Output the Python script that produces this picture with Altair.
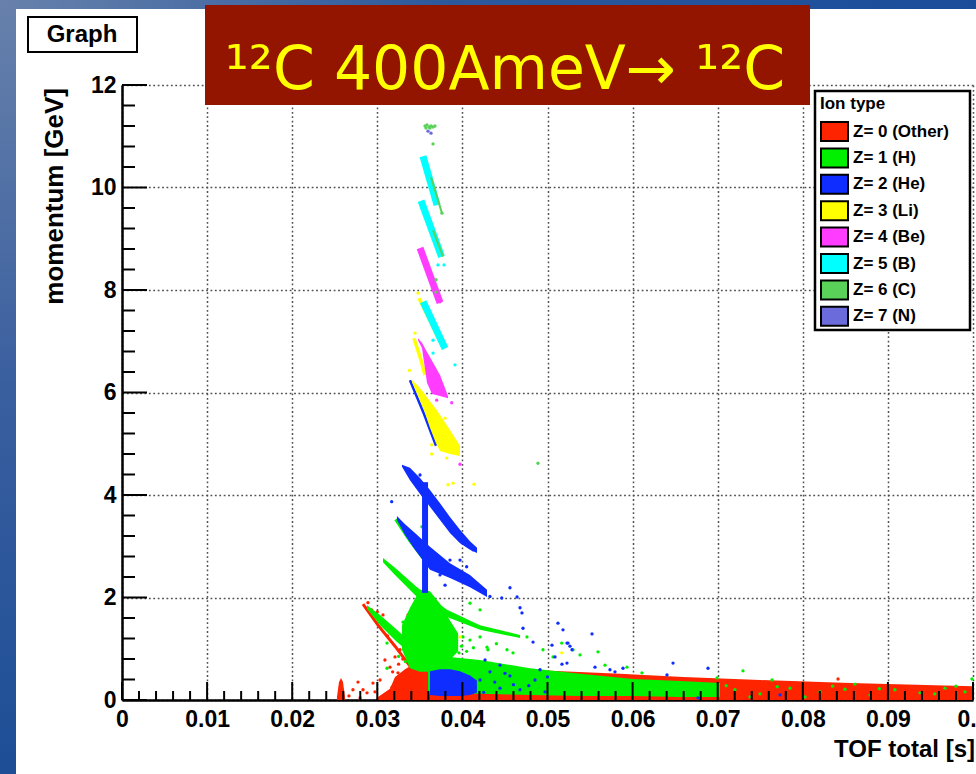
import altair as alt
import pandas as pd

# ---------------- categories / colours ----------------
ion_labels = ["Z= 0 (Other)", "Z= 1 (H)", "Z= 2 (He)", "Z= 3 (Li)",
              "Z= 4 (Be)", "Z= 5 (B)", "Z= 6 (C)", "Z= 7 (N)"]
ion_colors = ["#ff2400", "#00f000", "#0f2dff", "#ffff00",
              "#ff3cff", "#00ffff", "#5ad25a", "#6b6bdc"]

# ---------------- axes ----------------
x_ticks = [0, 0.01, 0.02, 0.03, 0.04, 0.05, 0.06, 0.07, 0.08, 0.09, 0.1]
x_minor_ticks = [round(0.002 * k, 3) for k in range(51) if k % 5]
y_ticks = [0, 2, 4, 6, 8, 10, 12]
y_minor_ticks = [round(0.4 * k, 1) for k in range(31) if k % 5]

# ---------------- dense regions (TOF [s], upper / lower momentum [GeV]) ----------------
red_bulk_t = [0.0300, 0.03149, 0.03208, 0.03326, 0.03443, 0.03584, 0.03737, 0.04442,
              0.05029, 0.05852, 0.06592, 0.07497, 0.08555, 0.1]
red_bulk_top = [0.05, 0.22, 0.45, 0.60, 0.72, 0.72, 0.70, 0.62, 0.57, 0.51, 0.45, 0.39, 0.33, 0.27]
red_bulk_bot = [0, 0, 0, 0, 0, 0, 0, 0, 0, 0, 0, 0, 0, 0]

red_spike_t = [0.02526, 0.02550, 0.02573, 0.02597, 0.02620]
red_spike_top = [0.06, 0.35, 0.43, 0.35, 0.06]
red_spike_bot = [0, 0, 0, 0, 0]

green_D_t = [0.02879, 0.03032, 0.03231, 0.03384, 0.03537]
green_D_top = [1.85, 1.66, 1.37, 1.13, 0.92]
green_D_bot = [1.78, 1.46, 1.13, 0.92, 0.70]

green_C_t = [0.03067, 0.03208, 0.03467, 0.03819, 0.04207, 0.04677]
green_C_top = [2.77, 2.58, 2.20, 1.76, 1.46, 1.27]
green_C_bot = [2.69, 2.44, 2.01, 1.62, 1.37, 1.21]

green_trunk_t = [0.03290, 0.03384, 0.03502, 0.03619, 0.03737, 0.03854, 0.03950]
green_trunk_top = [1.46, 1.80, 2.15, 2.12, 1.88, 1.55, 1.30]
green_trunk_bot = [0.98, 0.62, 0.55, 0.55, 0.60, 0.78, 0.95]

green_low_t = [0.03596, 0.03854, 0.04207, 0.04794, 0.05382, 0.06005, 0.06557, 0.07027]
green_low_top = [0.88, 0.84, 0.78, 0.62, 0.51, 0.41, 0.37, 0.33]
green_low_bot = [0.12, 0.12, 0.12, 0.10, 0.08, 0.08, 0.06, 0.06]

blue_A_t = [0.03290, 0.03384, 0.03502, 0.03619, 0.03737, 0.03854, 0.03972, 0.04089, 0.04172]
blue_A_top = [4.59, 4.53, 4.33, 4.10, 3.84, 3.57, 3.32, 3.10, 2.97]
blue_A_bot = [4.55, 4.29, 4.02, 3.77, 3.51, 3.26, 3.06, 2.93, 2.87]

blue_B_t = [0.03231, 0.03326, 0.03443, 0.03619, 0.03854, 0.04089, 0.04289]
blue_B_top = [3.59, 3.43, 3.26, 2.99, 2.67, 2.44, 2.15]
blue_B_bot = [3.51, 3.22, 2.93, 2.54, 2.38, 2.20, 2.01]

blue_cloud_t = [0.03619, 0.03737, 0.03854, 0.03972, 0.04089, 0.04170]
blue_cloud_top = [0.56, 0.60, 0.60, 0.56, 0.48, 0.38]
blue_cloud_bot = [0.10, 0.08, 0.08, 0.08, 0.10, 0.14]

li_fan_t = [0.03408, 0.03478, 0.03549, 0.03619, 0.03690, 0.03737, 0.03854, 0.03972]
li_fan_top = [6.24, 6.13, 5.99, 5.83, 5.68, 5.56, 5.27, 4.96]
li_fan_bot = [6.20, 5.93, 5.66, 5.31, 5.01, 4.86, 4.80, 4.76]

be_fan_t = [0.03478, 0.03525, 0.03584, 0.03643, 0.03737, 0.03831]
be_fan_top = [7.06, 6.97, 6.79, 6.62, 6.34, 5.93]
be_fan_bot = [7.02, 6.87, 6.19, 5.97, 5.93, 5.89]

# ---------------- narrow streaks (TOF [s], momentum [GeV]) ----------------
red_edge_t = [0.02832, 0.03008, 0.03208, 0.03384]
red_edge_p = [1.87, 1.46, 1.05, 0.66]

green_edge_t = [0.03220, 0.03384, 0.03561]
green_edge_p = [3.53, 3.12, 2.73]

blue_stem_t = [0.03561, 0.03561]
blue_stem_p = [4.25, 2.09]
blue_edge_t = [0.03384, 0.03549, 0.03690]
blue_edge_p = [6.24, 5.58, 4.96]

li_edge1_t = [0.03490, 0.03643, 0.03737]
li_edge1_p = [7.84, 7.32, 6.99]
li_edge2_t = [0.03431, 0.03514, 0.03561]
li_edge2_p = [7.06, 6.63, 6.34]

be_band_t = [0.03502, 0.03737]
be_band_p = [8.82, 7.75]

b_band1_t = [0.03537, 0.03702]
b_band1_p = [10.61, 9.66]
b_band2_t = [0.03514, 0.03755]
b_band2_p = [9.74, 8.65]
b_band3_t = [0.03539, 0.03796]
b_band3_p = [7.77, 6.86]

c_edge1_t = [0.03631, 0.03760]
c_edge1_p = [10.20, 9.50]
c_edge2_t = [0.03655, 0.03772]
c_edge2_p = [9.17, 8.65]

# ---------------- isolated points ----------------
red_pts_t = [0.02773, 0.02832, 0.02797, 0.02949, 0.02973, 0.02879, 0.03114, 0.03173, 0.02714,
             0.02667, 0.02934, 0.03067, 0.03149, 0.03208, 0.03243, 0.03384, 0.03326, 0.03361,
             0.03384, 0.03267, 0.03090, 0.03032, 0.08414, 0.02890, 0.03000, 0.03120,
             0.03300, 0.03250, 0.03180]
red_pts_p = [0.35, 0.20, 0.04, 0.33, 0.16, 0.14, 0.10, 0.25, 0.20,
             0.08, 1.76, 1.66, 0.64, 0.84, 0.53, 1.31, 1.37, 1.66,
             1.03, 0.98, 0.78, 0.39, 0.41, 1.90, 1.72, 1.25,
             0.80, 0.70, 0.55]

green_pts_t = [0.03302, 0.03173, 0.03114, 0.03114, 0.03561, 0.03854, 0.04007, 0.04089, 0.04207,
               0.04289, 0.04524, 0.04595, 0.04759, 0.04947, 0.05065, 0.05300, 0.04207, 0.04089,
               0.05167, 0.05382, 0.05593, 0.05676, 0.05934, 0.06110, 0.06992, 0.07297, 0.07638,
               0.08613, 0.09988, 0.03525, 0.07203, 0.07497, 0.07850, 0.08202, 0.08496, 0.08790,
               0.09083, 0.09377, 0.09671, 0.09906, 0.07380, 0.08026, 0.07100, 0.07700, 0.08350,
               0.08900, 0.09550, 0.09800, 0.03990, 0.04050, 0.04130, 0.03960, 0.04300, 0.04400,
               0.03250, 0.03330, 0.03420]
green_pts_p = [1.52, 1.31, 1.11, 0.62, 1.95, 1.17, 1.23, 1.17, 1.23,
               1.03, 0.98, 0.92, 1.23, 0.98, 0.84, 0.98, 1.76, 1.89,
               1.11, 0.88, 0.94, 0.68, 0.64, 0.53, 0.43, 0.57, 0.39,
               0.31, 0.41, 3.38, 0.20, 0.12, 0.23, 0.16, 0.21, 0.10,
               0.20, 0.14, 0.23, 0.16, 0.06, 0.06, 0.28, 0.26, 0.27,
               0.22, 0.12, 0.27, 1.05, 0.95, 1.02, 0.92, 0.98, 1.10,
               0.85, 0.75, 0.70]

blue_pts_t = [0.03169, 0.03502, 0.03854, 0.03972, 0.03816, 0.04050, 0.04125, 0.04559, 0.04677,
              0.04324, 0.04462, 0.04642, 0.04700, 0.04830, 0.05123, 0.05182, 0.05241, 0.04712,
              0.05053, 0.05088, 0.05229, 0.05264, 0.05288, 0.05523, 0.05170, 0.05229, 0.05558,
              0.05734, 0.05793, 0.05887, 0.06475, 0.06886, 0.06404, 0.07732, 0.06768, 0.04207,
              0.04324, 0.04442, 0.04559, 0.04677, 0.04853, 0.04971, 0.04912, 0.04442, 0.04266,
              0.03737, 0.03796, 0.04150, 0.04380, 0.04600, 0.04250, 0.04500, 0.04780, 0.05000]
blue_pts_p = [3.87, 4.39, 2.73, 2.73, 2.54, 2.60, 2.93, 2.19, 1.80,
              2.02, 1.99, 2.01, 1.70, 1.13, 1.50, 1.37, 1.11, 1.40,
              1.07, 0.84, 1.11, 1.05, 0.98, 1.29, 0.70, 0.72, 0.64,
              0.59, 0.55, 0.62, 0.72, 0.62, 0.49, 0.10, 0.04, 0.39,
              0.55, 0.23, 0.47, 0.20, 0.39, 0.16, 0.59, 0.68, 0.78,
              2.44, 2.24, 0.25, 0.35, 0.30, 0.15, 0.52, 0.28, 0.45]

li_pts_t = [0.03639, 0.03816, 0.03831, 0.03890, 0.04136, 0.03933, 0.03972, 0.05167,
            0.03377, 0.03443, 0.03796, 0.03639, 0.03478]
li_pts_p = [4.80, 4.72, 4.20, 4.23, 4.21, 4.82, 1.23, 0.92,
            6.43, 7.16, 5.50, 4.98, 7.94]

be_pts_t = [0.03972, 0.03874, 0.03698, 0.03737]
be_pts_p = [4.60, 5.80, 5.85, 7.77]

b_pts_t = [0.03913, 0.03655, 0.03713, 0.03784, 0.03655]
b_pts_p = [6.54, 6.77, 8.49, 8.49, 7.02]

c_pts_t = [0.03561, 0.03584, 0.03608, 0.03631, 0.03655, 0.03572, 0.03619, 0.03678,
           0.03655, 0.03760, 0.03690, 0.03690, 0.04888]
c_pts_p = [11.20, 11.22, 11.18, 11.20, 11.18, 11.16, 11.16, 11.20,
           10.85, 9.50, 8.20, 7.96, 4.62]

n_pts_t = [0.03596, 0.03631]
n_pts_p = [11.10, 11.06]

# ---------------- helpers ----------------
FONT = "Liberation Sans"
xs = alt.Scale(domain=[0, 0.1], nice=False, zero=False)
ys = alt.Scale(domain=[0, 12], nice=False, zero=False)
cs = alt.Scale(domain=ion_labels, range=ion_colors)

grid_kw = dict(grid=True, gridDash=[1.8, 2.6], gridColor="#505050", gridWidth=1.5,
               ticks=False, domain=True, domainColor="black", domainWidth=2.5,
               labelFont=FONT, labelFontWeight="bold", labelFontSize=23, labelColor="black",
               labelOverlap=False, title=None)
xaxis = alt.Axis(values=x_ticks, format="~g", labelPadding=8, labelFlush=False, **grid_kw)
yaxis = alt.Axis(values=y_ticks, labelPadding=6, **grid_kw)


def X(field):
    return alt.X(field, type="quantitative", scale=xs, axis=xaxis)


def Y(field):
    return alt.Y(field, type="quantitative", scale=ys, axis=yaxis)


def C():
    return alt.Color("ion:N", scale=cs, legend=None)


def bands(ion, items):
    frames = []
    for name, (t, top, bot) in items.items():
        frames.append(pd.DataFrame({"ion": ion_labels[ion], "band": name, "t": t, "top": top, "bot": bot}))
    df = pd.concat(frames, ignore_index=True)
    return alt.Chart(df).mark_area(interpolate="linear").encode(
        x=X("t"), y=Y("top"), y2="bot", color=C(), detail="band:N")


def streaks(ion, items, width):
    frames = []
    for name, (t, p) in items.items():
        frames.append(pd.DataFrame({"ion": ion_labels[ion], "band": name, "t": t, "p": p,
                                    "k": list(range(len(t)))}))
    df = pd.concat(frames, ignore_index=True)
    return alt.Chart(df).mark_line(strokeWidth=width, strokeCap="butt").encode(
        x=X("t"), y=Y("p"), color=C(), detail="band:N", order="k:Q")


def points(ion, t, p):
    df = pd.DataFrame({"ion": ion_labels[ion], "t": t, "p": p})
    return alt.Chart(df).mark_circle(size=11, opacity=1).encode(x=X("t"), y=Y("p"), color=C())


one = pd.DataFrame({"k": [0]})

# ---------------- background strips of the slide ----------------
strip_left = alt.Chart(one).mark_rect(fill=alt.Gradient(
    gradient="linear", x1=0, y1=0, x2=0, y2=1,
    stops=[alt.GradientStop(color="#6781ab", offset=0),
           alt.GradientStop(color="#3a5f9f", offset=0.5),
           alt.GradientStop(color="#1d4e96", offset=1)])).encode(
    x=alt.value(-122), x2=alt.value(-106), y=alt.value(-85), y2=alt.value(689))
strip_top = alt.Chart(one).mark_rect(fill=alt.Gradient(
    gradient="linear", x1=0, y1=0, x2=1, y2=0,
    stops=[alt.GradientStop(color="#6781ab", offset=0),
           alt.GradientStop(color="#2d5a9d", offset=0.45),
           alt.GradientStop(color="#1a4c9a", offset=1)])).encode(
    x=alt.value(-122), x2=alt.value(854), y=alt.value(-85), y2=alt.value(-76))

# ---------------- data layers ----------------
layers = [strip_left, strip_top]

layers += [
    bands(0, {"bulk": (red_bulk_t, red_bulk_top, red_bulk_bot),
              "spike": (red_spike_t, red_spike_top, red_spike_bot)}),
    streaks(0, {"edge": (red_edge_t, red_edge_p)}, 3),
    points(0, red_pts_t, red_pts_p),
    streaks(1, {"edge": (green_edge_t, green_edge_p)}, 4),
    bands(1, {"D": (green_D_t, green_D_top, green_D_bot),
              "C": (green_C_t, green_C_top, green_C_bot),
              "trunk": (green_trunk_t, green_trunk_top, green_trunk_bot),
              "low": (green_low_t, green_low_top, green_low_bot)}),
    points(1, green_pts_t, green_pts_p),
    bands(2, {"A": (blue_A_t, blue_A_top, blue_A_bot),
              "B": (blue_B_t, blue_B_top, blue_B_bot),
              "cloud": (blue_cloud_t, blue_cloud_top, blue_cloud_bot)}),
    streaks(2, {"stem": (blue_stem_t, blue_stem_p)}, 6),
    streaks(2, {"edge": (blue_edge_t, blue_edge_p)}, 2.5),
    points(2, blue_pts_t, blue_pts_p),
    streaks(3, {"e1": (li_edge1_t, li_edge1_p), "e2": (li_edge2_t, li_edge2_p)}, 3.5),
    bands(3, {"fan": (li_fan_t, li_fan_top, li_fan_bot)}),
    points(3, li_pts_t, li_pts_p),
    bands(4, {"fan": (be_fan_t, be_fan_top, be_fan_bot)}),
    streaks(4, {"band": (be_band_t, be_band_p)}, 7),
    points(4, be_pts_t, be_pts_p),
    streaks(5, {"b1": (b_band1_t, b_band1_p), "b2": (b_band2_t, b_band2_p),
                "b3": (b_band3_t, b_band3_p)}, 7),
    points(5, b_pts_t, b_pts_p),
    streaks(6, {"e1": (c_edge1_t, c_edge1_p), "e2": (c_edge2_t, c_edge2_p)}, 2),
    points(6, c_pts_t, c_pts_p),
    points(7, n_pts_t, n_pts_p),
]

# ---------------- tick marks drawn inside the frame ----------------
layers += [
    alt.Chart(pd.DataFrame({"t": x_ticks})).mark_rule(color="black", strokeWidth=2).encode(
        x=X("t"), y=alt.value(615), y2=alt.value(597)),
    alt.Chart(pd.DataFrame({"t": x_minor_ticks})).mark_rule(color="black", strokeWidth=2).encode(
        x=X("t"), y=alt.value(615), y2=alt.value(606)),
    alt.Chart(pd.DataFrame({"p": y_ticks})).mark_rule(color="black", strokeWidth=2).encode(
        y=Y("p"), x=alt.value(0), x2=alt.value(25)),
    alt.Chart(pd.DataFrame({"p": y_minor_ticks})).mark_rule(color="black", strokeWidth=2).encode(
        y=Y("p"), x=alt.value(0), x2=alt.value(13)),
]

# ---------------- axis titles ----------------
layers += [
    alt.Chart(one).mark_text(text="momentum [GeV]", font=FONT, fontWeight="bold", fontSize=26,
                             angle=270, align="right", baseline="middle", color="black").encode(
        x=alt.value(-67), y=alt.value(3)),
    alt.Chart(one).mark_text(text="TOF total [s]", font=FONT, fontWeight="bold", fontSize=24,
                             align="right", baseline="middle", color="black").encode(
        x=alt.value(853), y=alt.value(665)),
]

# ---------------- "Graph" box and title banner ----------------
layers += [
    alt.Chart(one).mark_rect(fill="white", stroke="black", strokeWidth=2).encode(
        x=alt.value(-94), x2=alt.value(15), y=alt.value(-68), y2=alt.value(-33)),
    alt.Chart(one).mark_text(text="Graph", font=FONT, fontWeight="bold", fontSize=24,
                             align="center", baseline="middle", color="black").encode(
        x=alt.value(-40), y=alt.value(-50)),
    alt.Chart(one).mark_rect(fill="#931500").encode(
        x=alt.value(83), x2=alt.value(688), y=alt.value(-80), y2=alt.value(20)),
    alt.Chart(one).mark_text(text="¹²C 400AmeV→ ¹²C", font="DejaVu Sans", fontSize=60,
                             align="center", baseline="alphabetic", color="#ffff00").encode(
        x=alt.value(383), y=alt.value(4)),
]

# ---------------- legend box ----------------
layers += [
    alt.Chart(one).mark_rect(fill="white", stroke="black", strokeWidth=2.5).encode(
        x=alt.value(693), x2=alt.value(848), y=alt.value(6), y2=alt.value(245)),
    alt.Chart(one).mark_text(text="Ion type", font=FONT, fontWeight="bold", fontSize=17,
                             align="left", baseline="middle", color="black").encode(
        x=alt.value(698), y=alt.value(19)),
]
for i, lab in enumerate(ion_labels):
    d = pd.DataFrame({"ion": [lab]})
    yc = 46.5 + 26.4 * i
    layers.append(alt.Chart(d).mark_rect(stroke="black", strokeWidth=2).encode(
        x=alt.value(699), x2=alt.value(726), y=alt.value(yc - 9.5), y2=alt.value(yc + 9.5),
        fill=alt.Fill("ion:N", scale=cs, legend=None)))
    layers.append(alt.Chart(d).mark_text(font=FONT, fontWeight="bold", fontSize=17,
                                         align="left", baseline="middle", color="black").encode(
        x=alt.value(731), y=alt.value(yc), text="ion:N"))

chart = alt.layer(*layers).properties(
    width=851, height=615,
    padding={"left": 122, "top": 85, "right": 3, "bottom": 74},
    autosize=alt.AutoSizeParams(type="none"),
    background="white",
).configure_view(stroke=None)

chart.save("out.html", embed_options={"renderer": "svg", "actions": False})
